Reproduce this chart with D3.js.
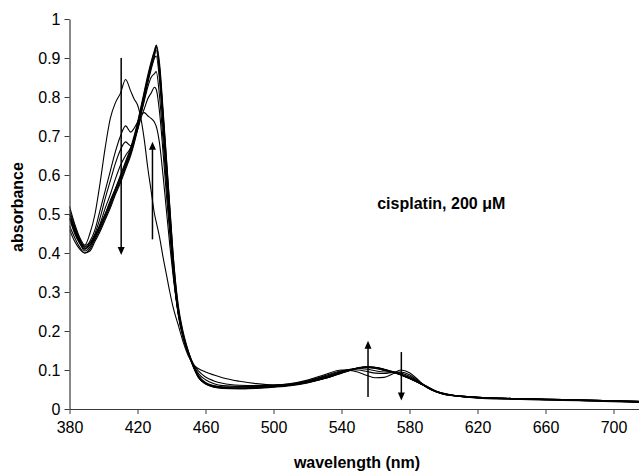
<!DOCTYPE html>
<html>
<head>
<meta charset="utf-8">
<script src="https://cdn.jsdelivr.net/npm/d3@7/dist/d3.min.js"></script>
<style>
  html, body { margin: 0; padding: 0; background: #fff; }
  svg { display: block; font-family: "Liberation Sans", Arial, sans-serif; }
</style>
</head>
<body>
<svg id="chart" width="639" height="471"></svg>
<script>
// ---- data ----
const wavelengths = [380,383,386,389,392,395,398,401,404,407,410,413,416,418,420,422,424,426,428,430,
  431,433,435,437,439,441,444,447,450,453,456,460,465,470,480,490,500,510,520,530,
  540,545,550,555,560,565,570,575,580,585,590,595,600,610,620,640,660,680,700,715];

const spectrum0 = [0.50,0.46,0.43,0.42,0.45,0.50,0.58,0.67,0.745,0.785,0.81,0.845,0.815,0.795,0.78,0.745,0.69,0.62,0.56,0.50,
  0.48,0.44,0.39,0.345,0.30,0.26,0.215,0.17,0.135,0.113,0.103,0.095,0.087,0.08,0.071,0.065,0.062,0.065,0.074,0.088,
  0.10,0.099,0.094,0.086,0.08,0.081,0.09,0.10,0.093,0.075,0.056,0.045,0.038,0.033,0.03,0.027,0.025,0.023,0.021,0.02];
const spectrum1 = [0.51,0.47,0.435,0.415,0.43,0.46,0.51,0.56,0.61,0.66,0.70,0.726,0.71,0.72,0.735,0.755,0.76,0.752,0.745,0.735,
  0.725,0.68,0.60,0.51,0.42,0.34,0.245,0.185,0.145,0.115,0.097,0.082,0.072,0.066,0.061,0.06,0.061,0.064,0.072,0.085,
  0.098,0.101,0.10,0.096,0.092,0.091,0.094,0.095,0.088,0.072,0.056,0.045,0.038,0.033,0.03,0.027,0.025,0.023,0.021,0.02];
const spectrum2 = [0.50,0.46,0.43,0.41,0.425,0.45,0.49,0.54,0.585,0.63,0.665,0.685,0.675,0.69,0.715,0.745,0.77,0.795,0.81,0.825,
  0.82,0.76,0.66,0.55,0.45,0.35,0.245,0.184,0.142,0.112,0.09,0.075,0.065,0.06,0.058,0.058,0.06,0.063,0.071,0.083,
  0.097,0.102,0.104,0.102,0.098,0.095,0.095,0.092,0.084,0.07,0.057,0.046,0.039,0.033,0.03,0.027,0.025,0.023,0.021,0.019];
const spectrum3 = [0.49,0.455,0.425,0.41,0.42,0.445,0.475,0.515,0.55,0.59,0.625,0.65,0.67,0.69,0.72,0.755,0.79,0.825,0.85,0.86,
  0.865,0.80,0.69,0.575,0.465,0.355,0.245,0.183,0.142,0.11,0.085,0.068,0.06,0.057,0.056,0.057,0.059,0.063,0.07,0.081,
  0.095,0.101,0.105,0.106,0.104,0.099,0.094,0.088,0.079,0.068,0.056,0.046,0.039,0.033,0.03,0.027,0.025,0.023,0.021,0.019];
const spectrum4 = [0.47,0.44,0.415,0.40,0.41,0.435,0.46,0.49,0.52,0.555,0.585,0.62,0.655,0.685,0.72,0.76,0.80,0.84,0.875,0.90,
  0.905,0.84,0.72,0.595,0.475,0.355,0.24,0.18,0.14,0.106,0.08,0.066,0.058,0.055,0.054,0.055,0.058,0.062,0.069,0.079,
  0.093,0.10,0.105,0.107,0.105,0.10,0.094,0.087,0.078,0.068,0.057,0.046,0.039,0.033,0.030,0.027,0.025,0.023,0.021,0.019];
const spectrum5 = [0.49,0.45,0.425,0.405,0.415,0.44,0.465,0.495,0.525,0.56,0.59,0.625,0.66,0.69,0.725,0.765,0.805,0.845,0.88,0.91,
  0.92,0.855,0.735,0.61,0.49,0.365,0.245,0.182,0.14,0.107,0.08,0.065,0.057,0.055,0.053,0.055,0.058,0.062,0.069,0.08,
  0.094,0.1,0.105,0.108,0.106,0.1,0.094,0.087,0.078,0.068,0.057,0.046,0.038,0.032,0.029,0.026,0.024,0.022,0.020,0.018];
const spectrum6 = [0.50,0.465,0.435,0.415,0.42,0.44,0.47,0.50,0.53,0.565,0.595,0.63,0.665,0.695,0.73,0.77,0.81,0.85,0.885,0.915,
  0.928,0.87,0.755,0.63,0.505,0.38,0.255,0.188,0.143,0.108,0.081,0.065,0.057,0.054,0.053,0.054,0.057,0.061,0.068,0.079,
  0.093,0.1,0.106,0.108,0.106,0.101,0.095,0.088,0.079,0.069,0.058,0.047,0.039,0.032,0.029,0.026,0.024,0.022,0.02,0.018];
const spectrum7 = [0.52,0.475,0.44,0.42,0.425,0.445,0.47,0.50,0.535,0.565,0.60,0.635,0.67,0.70,0.735,0.775,0.815,0.855,0.89,0.92,
  0.933,0.885,0.77,0.645,0.52,0.395,0.265,0.195,0.147,0.11,0.082,0.066,0.057,0.054,0.052,0.054,0.057,0.061,0.068,0.078,
  0.092,0.099,0.105,0.108,0.107,0.102,0.096,0.089,0.08,0.07,0.058,0.047,0.04,0.032,0.029,0.026,0.024,0.022,0.02,0.018];
const spectrum8 = [0.46,0.43,0.41,0.40,0.405,0.43,0.455,0.485,0.515,0.55,0.58,0.615,0.65,0.68,0.715,0.755,0.795,0.835,0.87,0.905,
  0.93,0.875,0.76,0.64,0.515,0.39,0.26,0.19,0.145,0.108,0.08,0.064,0.056,0.053,0.052,0.053,0.056,0.06,0.067,0.078,
  0.092,0.099,0.104,0.107,0.106,0.102,0.096,0.09,0.081,0.071,0.059,0.047,0.04,0.032,0.028,0.025,0.023,0.021,0.019,0.017];

const spectra = [spectrum0, spectrum1, spectrum2, spectrum3, spectrum4, spectrum5, spectrum6, spectrum7, spectrum8];

const xTicks = [380,420,460,500,540,580,620,660,700];
const yTicks = [0,0.1,0.2,0.3,0.4,0.5,0.6,0.7,0.8,0.9,1];

// arrows: wavelength, start absorbance, end absorbance (head at end)
const arrowWavelengths = [410.4, 428.8, 555.6, 575.2];
const arrowStart = [0.90, 0.435, 0.031, 0.146];
const arrowEnd = [0.395, 0.685, 0.175, 0.022];

const annotationText = "cisplatin, 200 μM";
const xTitle = "wavelength (nm)";
const yTitle = "absorbance";

// ---- layout ----
const svg = d3.select("#chart");
const plotLeft = 69.5, plotRight = 639, plotTop = 19, plotBottom = 409;

const x = d3.scaleLinear().domain([380, 715]).range([plotLeft, plotRight]);
const y = d3.scaleLinear().domain([0, 1]).range([plotBottom, plotTop]);

const axisColor = "#3a3a3a";

// spectra
const line = d3.line()
  .x((d, i) => x(wavelengths[i]))
  .y(d => y(d))
  .curve(d3.curveMonotoneX);

svg.append("defs").append("clipPath").attr("id", "clip")
  .append("rect").attr("x", plotLeft).attr("y", 0).attr("width", plotRight - plotLeft).attr("height", plotBottom);

svg.append("g").attr("clip-path", "url(#clip)")
  .selectAll("path.spec")
  .data(spectra)
  .join("path")
  .attr("class", "spec")
  .attr("d", line)
  .attr("fill", "none")
  .attr("stroke", "#000")
  .attr("stroke-width", 1.1)
  .attr("stroke-linejoin", "round");

// axes
const xAxis = d3.axisBottom(x).tickValues(xTicks).tickSize(5).tickSizeOuter(0).tickPadding(8);
const gx = svg.append("g").attr("transform", `translate(0,${plotBottom})`).call(xAxis);
gx.select(".domain").attr("stroke", axisColor).attr("stroke-width", 1.2);
gx.selectAll(".tick line").attr("stroke", axisColor);
gx.selectAll(".tick text").attr("font-size", 16).attr("fill", "#000")
  .attr("font-family", "Liberation Sans, Arial, sans-serif");

const yAxis = d3.axisLeft(y).tickValues(yTicks).tickSize(5).tickSizeOuter(0).tickPadding(4)
  .tickFormat(d3.format("~g"));
const gy = svg.append("g").attr("transform", `translate(${plotLeft},0)`).call(yAxis);
gy.select(".domain").attr("stroke", axisColor).attr("stroke-width", 1.2);
gy.selectAll(".tick line").attr("stroke", axisColor);
gy.selectAll(".tick text").attr("font-size", 16).attr("fill", "#000")
  .attr("font-family", "Liberation Sans, Arial, sans-serif");

// axis titles
svg.append("text")
  .attr("x", 357).attr("y", 468)
  .attr("text-anchor", "middle")
  .attr("font-size", 16).attr("font-weight", "bold")
  .text(xTitle);

svg.append("text")
  .attr("transform", `translate(23,207) rotate(-90)`)
  .attr("text-anchor", "middle")
  .attr("font-size", 16).attr("font-weight", "bold")
  .text(yTitle);

// annotation
svg.append("text")
  .attr("x", x(561)).attr("y", y(0.528) + 6)
  .attr("font-size", 16).attr("font-weight", "bold")
  .text(annotationText);

// arrows
arrowWavelengths.forEach((w, i) => {
  const ax = x(w), y1 = y(arrowStart[i]), y2 = y(arrowEnd[i]);
  const dir = y2 > y1 ? 1 : -1;
  const headLen = 8, headW = 3.5;
  svg.append("line")
    .attr("x1", ax).attr("x2", ax)
    .attr("y1", y1).attr("y2", y2 - dir * headLen * 0.6)
    .attr("stroke", "#000").attr("stroke-width", 1.5);
  svg.append("path")
    .attr("d", `M${ax},${y2} L${ax - headW},${y2 - dir * headLen} L${ax + headW},${y2 - dir * headLen} Z`)
    .attr("fill", "#000");
});
</script>
</body>
</html>
